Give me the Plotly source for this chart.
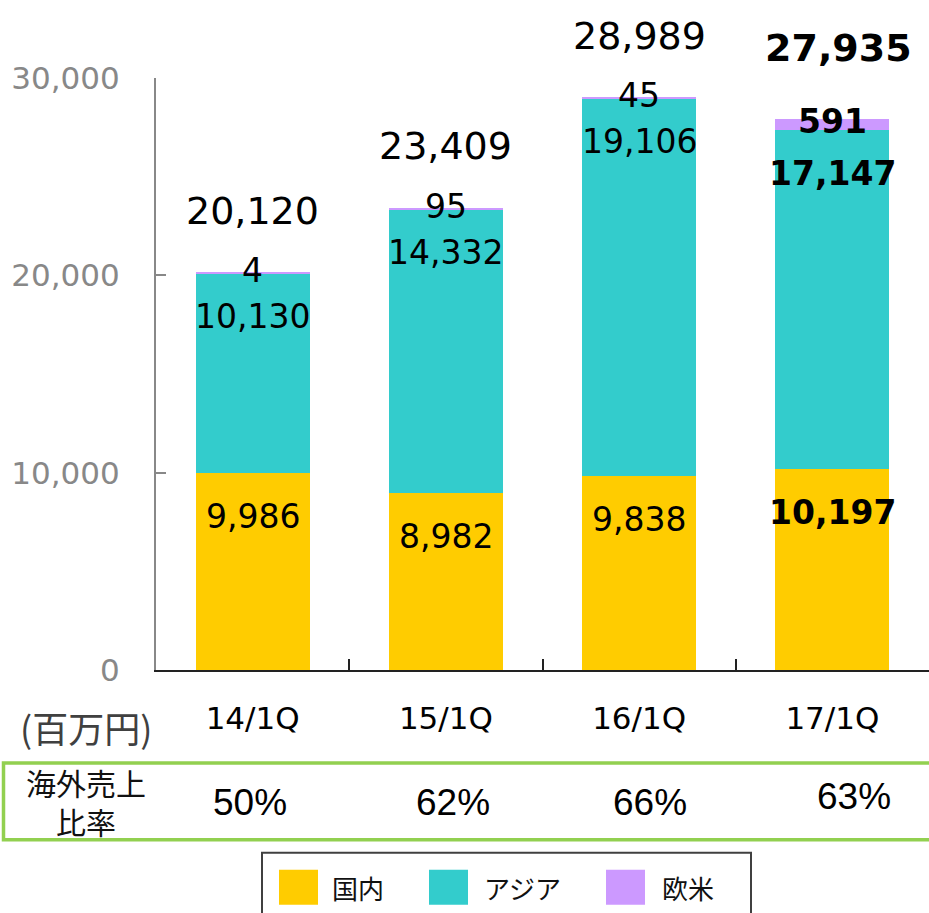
import plotly.graph_objects as go

# ---------------- data ----------------
categories = ["14/1Q", "15/1Q", "16/1Q", "17/1Q"]
series_names = ["国内", "アジア", "欧米"]
domestic = [9986, 8982, 9838, 10197]
asia = [10130, 14332, 19106, 17147]
europe_us = [4, 95, 45, 591]
totals = [20120, 23409, 28989, 27935]
overseas_ratio = ["50%", "62%", "66%", "63%"]
y_ticks = [0, 10000, 20000, 30000]
unit_label = "(百万円)"
ratio_label_lines = ["海外売上", "比率"]

colors = ["#FFCC00", "#33CCCC", "#CC99FF"]
bold_index = 3  # highlighted latest quarter

NUM_FONT = "DejaVu Sans"
JP_FONT = "Noto Sans CJK JP"

W, H = 929, 913
# plot area in window pixels
PL, PR, PT, PB = 156, 929, 77.5, 670


def px(x):
    return (x - PL) / (PR - PL)


def py(y):
    return (PB - y) / (PB - PT)


fig = go.Figure()
for name, vals, col in zip(series_names, [domestic, asia, europe_us], colors):
    fig.add_trace(go.Bar(
        x=categories, y=vals, name=name,
        marker=dict(color=col, line=dict(width=0)),
        width=0.59, showlegend=False,
    ))

annotations = []


def fmt(v):
    return f"{v:,}"


def bold(t, i):
    return f"<b>{t}</b>" if i == bold_index else t


for i, c in enumerate(categories):
    annotations.append(dict(x=c, y=domestic[i], xref="x", yref="y", text=bold(fmt(domestic[i]), i),
                            showarrow=False, yanchor="middle", yshift=-44,
                            font=dict(family=NUM_FONT, size=33, color="#000")))
    top_asia = domestic[i] + asia[i]
    annotations.append(dict(x=c, y=top_asia, xref="x", yref="y", text=bold(fmt(asia[i]), i),
                            showarrow=False, yanchor="middle", yshift=-43,
                            font=dict(family=NUM_FONT, size=33, color="#000")))
    annotations.append(dict(x=c, y=top_asia + europe_us[i] / 2, xref="x", yref="y",
                            text=bold(fmt(europe_us[i]), i),
                            showarrow=False, yanchor="middle", yshift=3,
                            font=dict(family=NUM_FONT, size=33, color="#000")))
    annotations.append(dict(x=c, y=totals[i], xref="x", yref="y", text=bold(fmt(totals[i]), i),
                            showarrow=False, yanchor="middle",
                            yshift=71 if i == bold_index else 62,
                            xshift=6 if i == bold_index else 0,
                            font=dict(family=NUM_FONT, size=38, color="#000")))

# unit label
annotations.append(dict(x=px(86), y=py(727), xref="paper", yref="paper", text=unit_label,
                        showarrow=False, xanchor="center", yanchor="middle",
                        font=dict(family=JP_FONT, size=36, color="#404040")))

# overseas ratio table
for line, yy in zip(ratio_label_lines, [782, 821]):
    annotations.append(dict(x=px(86), y=py(yy), xref="paper", yref="paper", text=line,
                            showarrow=False, xanchor="center", yanchor="middle",
                            borderpad=0,
                            font=dict(family=JP_FONT, size=30, color="#111")))
ratio_xshift = [-3, 7, 11, 22]
ratio_yshift = [0, 0, 0, 6]
for i, c in enumerate(categories):
    annotations.append(dict(x=c, y=py(803), xref="x", yref="paper", text=overseas_ratio[i],
                            showarrow=False, xanchor="center", yanchor="middle",
                            xshift=ratio_xshift[i], yshift=ratio_yshift[i],
                            font=dict(family="Liberation Sans", size=37, color="#000")))

shapes = [
    dict(type="rect", xref="paper", yref="paper", x0=px(3.5), x1=px(945), y0=py(840), y1=py(763),
         line=dict(color="#92D050", width=3.5), fillcolor="rgba(0,0,0,0)"),
    dict(type="rect", xref="paper", yref="paper", x0=px(262), x1=px(751), y0=py(925), y1=py(853),
         line=dict(color="#404040", width=2), fillcolor="rgba(0,0,0,0)"),
]

# legend (manual)
sw_left = [279, 429, 606]
txt_left = [330, 482, 660]
for name, col, sx, tx in zip(series_names, colors, sw_left, txt_left):
    shapes.append(dict(type="rect", xref="paper", yref="paper", x0=px(sx), x1=px(sx + 39),
                       y0=py(905), y1=py(870), line=dict(width=0), fillcolor=col))
    annotations.append(dict(x=px(tx), y=py(888), xref="paper", yref="paper", text=name,
                            showarrow=False, xanchor="left", yanchor="middle",
                            font=dict(family=JP_FONT, size=26, color="#111")))

fig.update_layout(
    width=W, height=H,
    margin=dict(l=PL, r=W - PR, t=PT, b=H - PB, pad=0),
    barmode="stack",
    plot_bgcolor="white", paper_bgcolor="white",
    showlegend=False,
    annotations=annotations,
    shapes=shapes,
    xaxis=dict(
        range=[-0.5, 3.5], showgrid=False, zeroline=False,
        showline=True, linecolor="#222", linewidth=2,
        ticks="inside", ticklen=11, tickcolor="#222", tickwidth=1.5,
        tickson="boundaries",
        tickfont=dict(family=NUM_FONT, size=31, color="#000"),
        ticklabelstandoff=20,
    ),
    yaxis=dict(
        range=[0, 30000], showgrid=False, zeroline=False,
        showline=True, linecolor="#888", linewidth=2,
        ticks="inside", ticklen=10, tickcolor="#888", tickwidth=1.5,
        tickvals=y_ticks, tickformat=",d",
        tickfont=dict(family=NUM_FONT, size=31, color="#888"),
        ticklabelstandoff=28,
    ),
)

# remove the browser's default 8px body margin so the figure fills the window exactly
fig.write_html(
    "out.html",
    config={"displayModeBar": False},
    post_script="document.body.style.margin='0';document.body.style.overflow='hidden';",
)
